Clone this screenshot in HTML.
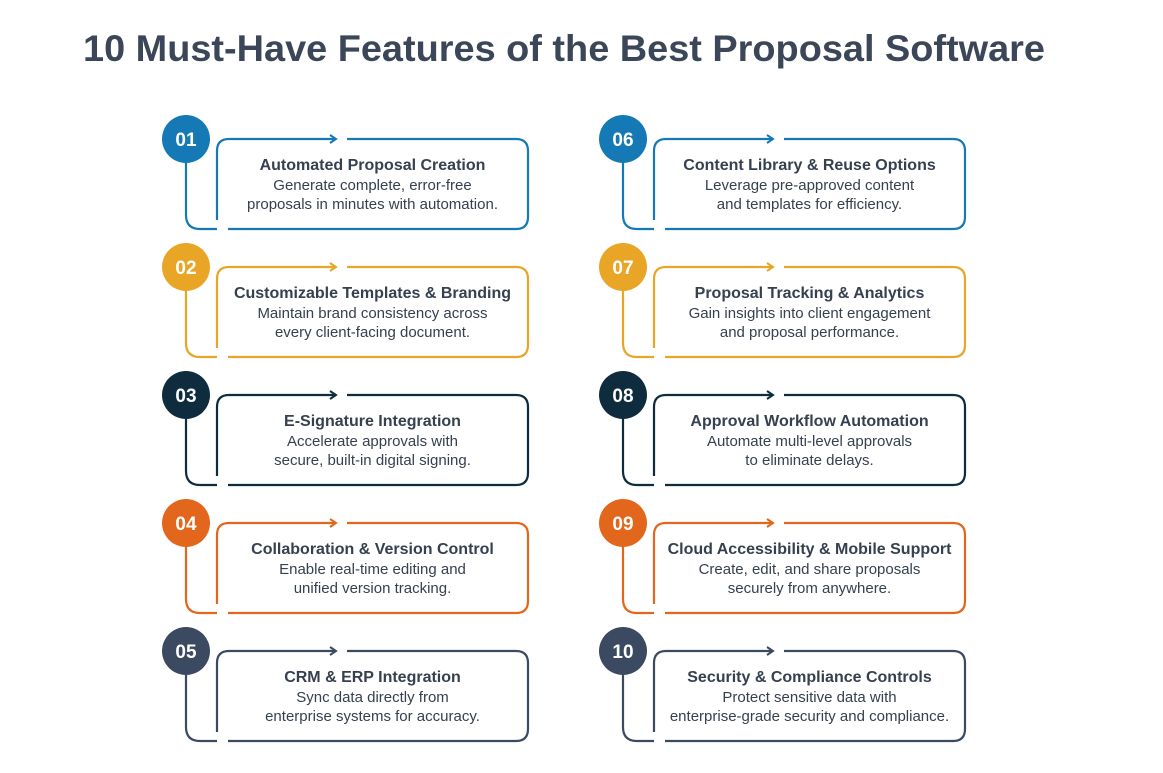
<!DOCTYPE html>
<html><head><meta charset="utf-8">
<style>
html,body{margin:0;padding:0;background:#fff;}
svg{display:block;font-family:"Liberation Sans",sans-serif;}
</style></head>
<body>
<svg id="s" width="1163" height="773" viewBox="0 0 1163 773">
<text x="83" y="61" font-size="37" font-weight="bold" fill="#3b4758" textLength="962" lengthAdjust="spacingAndGlyphs">10 Must-Have Features of the Best Proposal Software</text>
</svg>
<script>
const nums=["01","02","03","04","05","06","07","08","09","10"];
const titles=["Automated Proposal Creation","Customizable Templates & Branding","E-Signature Integration","Collaboration & Version Control","CRM & ERP Integration","Content Library & Reuse Options","Proposal Tracking & Analytics","Approval Workflow Automation","Cloud Accessibility & Mobile Support","Security & Compliance Controls"];
const line1=["Generate complete, error-free","Maintain brand consistency across","Accelerate approvals with","Enable real-time editing and","Sync data directly from","Leverage pre-approved content","Gain insights into client engagement","Automate multi-level approvals","Create, edit, and share proposals","Protect sensitive data with"];
const line2=["proposals in minutes with automation.","every client-facing document.","secure, built-in digital signing.","unified version tracking.","enterprise systems for accuracy.","and templates for efficiency.","and proposal performance.","to eliminate delays.","securely from anywhere.","enterprise-grade security and compliance."];
const colors=["#1479b5","#e8a526","#0f2c3f","#e2661b","#3b4a60"];
const NS="http://www.w3.org/2000/svg";
const s=document.getElementById('s');
function mk(tag,attrs,parent){const e=document.createElementNS(NS,tag);for(const k in attrs)e.setAttribute(k,attrs[k]);(parent||s).appendChild(e);return e;}
nums.forEach((n,i)=>{
  const col=Math.floor(i/5),row=i%5;
  const cx=186+col*437, cy=139+row*128;
  const c=colors[row];
  const g=mk('g',{});
  
  
  const L=cx+31,R=cx+342,T=cy,B=cy+90,r=12;
  mk('path',{d:`M${cx} ${cy} V${B-14} Q${cx} ${B} ${cx+14} ${B} H${L}`,fill:'none',stroke:c,'stroke-width':2.2},g);
  mk('path',{d:`M${L} ${B-9} V${T+r} Q${L} ${T} ${L+r} ${T} H${cx+150}`,fill:'none',stroke:c,'stroke-width':2.2},g);
  mk('path',{d:`M${cx+144} ${T-4} L${cx+150} ${T} L${cx+144} ${T+4}`,fill:'none',stroke:c,'stroke-width':2},g);
  mk('path',{d:`M${cx+161} ${T} H${R-r} Q${R} ${T} ${R} ${T+r} V${B-r} Q${R} ${B} ${R-r} ${B} H${L+11}`,fill:'none',stroke:c,'stroke-width':2.2},g);
  const circ=mk('circle',{cx:cx,cy:cy,r:24,fill:c},g);
  
  
  const nt=mk('text',{x:cx,y:cy+7,'text-anchor':'middle','font-size':19,'font-weight':'bold',fill:'#fff'},g);nt.textContent=n;
  const mx=(L+R)/2;
  const t=mk('text',{x:mx,y:cy+31,'text-anchor':'middle','font-size':16,'font-weight':'bold',fill:'#36404f'},g);t.textContent=titles[i];
  
  
  const d1=mk('text',{x:mx,y:cy+51,'text-anchor':'middle','font-size':15,fill:'#36404f'},g);d1.textContent=line1[i];
  const d2=mk('text',{x:mx,y:cy+70,'text-anchor':'middle','font-size':15,fill:'#36404f'},g);d2.textContent=line2[i];
});
</script>
</body></html>
